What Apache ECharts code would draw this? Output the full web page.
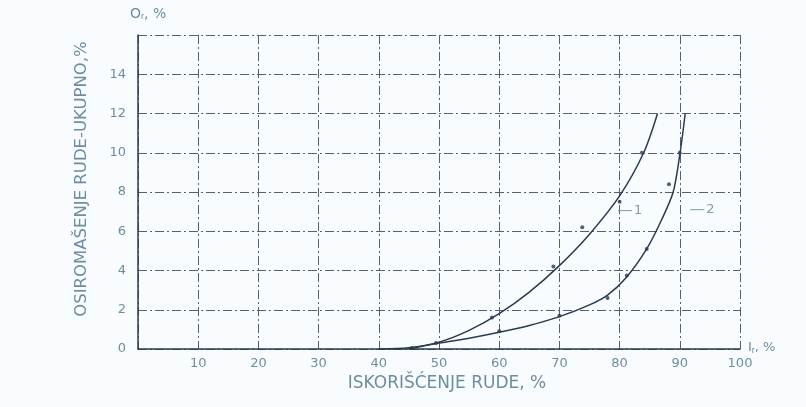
<!DOCTYPE html>
<html><head><meta charset="utf-8">
<script src="https://cdn.jsdelivr.net/npm/echarts@6/dist/echarts.min.js"></script>
<style>html,body{margin:0;padding:0;background:#f9fcfe;}#c{width:806px;height:407px;}</style>
</head><body><div id="c"></div>
<script>
// x ticks / y ticks
const xTicks = [10, 20, 30, 40, 50, 60, 70, 80, 90, 100];
const yTicks = [0, 2, 4, 6, 8, 10, 12, 14];
// Curve 1 (upper) – recovery I (%) vs. total dilution O (%)
const curve1X = [40, 45, 50, 55, 60, 65, 70, 75, 80, 84, 86.3];
const curve1Y = [0, 0.06, 0.35, 0.95, 1.8, 2.9, 4.25, 5.85, 7.8, 10.0, 12.0];
// Curve 2 (lower)
const curve2X = [45, 50, 55, 60, 65, 70, 75, 78, 81, 84.5, 87, 88.9, 90, 90.9];
const curve2Y = [0, 0.3, 0.55, 0.85, 1.2, 1.65, 2.25, 2.75, 3.6, 5.1, 6.6, 8.0, 9.9, 12.0];
// measured points
const pts1X = [45.5, 49.5, 58.8, 69, 73.8, 80, 83.7];
const pts1Y = [0.05, 0.3, 1.6, 4.2, 6.2, 7.5, 10.0];
const pts2X = [60, 70, 78, 81.2, 84.5, 88.2, 90];
const pts2Y = [0.9, 1.7, 2.6, 3.75, 5.1, 8.4, 10.0];
// curve labels
const labelNames = ['1', '2'];
const labelX = [82.3, 94.3];
const labelY = [7.05, 7.1];

const zip = (a, b) => a.map((v, i) => [v, b[i]]);
const ink = '#2a3a52', txt = '#6d8da0', gridC = '#56606c';
const chart = echarts.init(document.getElementById('c'));
chart.setOption({
  backgroundColor: '#f9fcfe',
  animation: false,
  grid: { left: 138, right: 66, top: 35, bottom: 58 },
  xAxis: {
    type: 'value', min: 0, max: 100, interval: 10,
    name: 'ISKORIŠĆENJE RUDE, %', nameLocation: 'middle', nameGap: 24,
    nameTextStyle: { color: txt, fontSize: 17, fontFamily: 'DejaVu Sans', padding: [0, 0, 0, 16] },
    axisLine: { lineStyle: { color: ink, width: 1.5 } },
    axisTick: { show: false },
    axisLabel: { color: txt, fontSize: 13, fontFamily: 'DejaVu Sans', margin: 8,
      formatter: v => xTicks.includes(v) ? String(v) : '' },
    splitLine: { show: true, lineStyle: { color: gridC, width: 1, type: [9, 3, 2, 3] } }
  },
  yAxis: {
    type: 'value', min: 0, max: 16, interval: 2,
    name: 'OSIROMAŠENJE RUDE-UKUPNO,%', nameLocation: 'middle', nameGap: 48,
    nameTextStyle: { color: txt, fontSize: 16.5, fontFamily: 'DejaVu Sans', padding: [0, 0, 0, 26] },
    axisLine: { show: true, lineStyle: { color: ink, width: 1.5 } },
    axisTick: { show: false },
    axisLabel: { color: txt, fontSize: 13, fontFamily: 'DejaVu Sans', margin: 12,
      formatter: v => yTicks.includes(v) ? String(v) : '' },
    splitLine: { show: true, lineStyle: { color: gridC, width: 1, type: [9, 3, 2, 3] } }
  },
  graphic: [
    { type: 'text', left: 130, top: 7, style: { text: 'O{s|r}, %', fill: txt, fontSize: 14, fontFamily: 'DejaVu Sans',
      rich: { s: { fontSize: 9, verticalAlign: 'bottom', padding: [6, 0, 0, 0], fill: txt } } } },
    { type: 'text', left: 748, top: 341, style: { text: 'I{s|r}, %', fill: txt, fontSize: 13, fontFamily: 'DejaVu Sans',
      rich: { s: { fontSize: 9, padding: [6, 0, 0, 0], fill: txt } } } }
  ],
  series: [
    { type: 'line', data: zip(curve1X, curve1Y), smooth: 0.3, showSymbol: false,
      lineStyle: { color: ink, width: 1.5 } },
    { type: 'line', data: zip(curve2X, curve2Y), smooth: 0.3, showSymbol: false,
      lineStyle: { color: ink, width: 1.5 } },
    { type: 'scatter', data: zip(pts1X, pts1Y), symbolSize: 4, itemStyle: { color: ink } },
    { type: 'scatter', data: zip(pts2X, pts2Y), symbolSize: 4, itemStyle: { color: ink } },
    { type: 'scatter', symbol: 'rect', symbolSize: [14, 1],
      data: labelNames.map((n, i) => ({ value: [labelX[i] - 1.4, labelY[i]], name: n })),
      itemStyle: { color: '#5a8a8a' },
      label: { show: true, position: 'right', distance: 2, formatter: p => p.name, color: '#5a8a8a', fontSize: 13, fontFamily: 'DejaVu Sans' } }
  ]
});
</script></body></html>
